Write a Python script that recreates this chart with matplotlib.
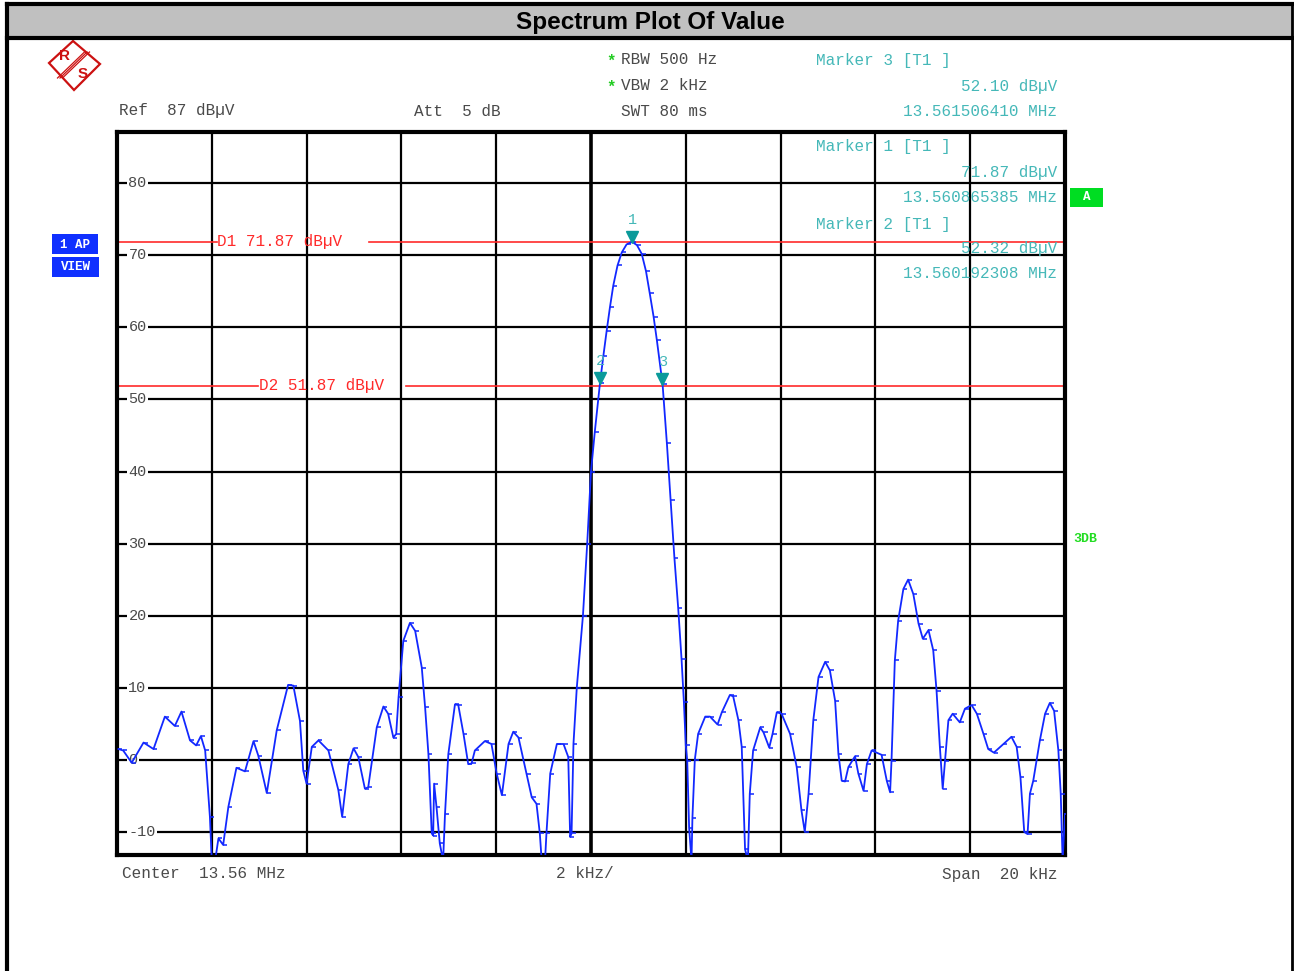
import matplotlib
matplotlib.use("Agg")
import matplotlib.pyplot as plt
import matplotlib.transforms as mtransforms
from matplotlib.patches import Rectangle, Polygon
import numpy as np

# trace: offset from 13.56 MHz (kHz) and level (dBuV)
freq_khz = [-9.97, -9.87, -9.69, -9.44, -9.23, -8.99, -8.78, -8.64, -8.46, -8.33,
            -8.23, -8.14, -8.04, -8.00, -7.93, -7.86, -7.76, -7.65, -7.48, -7.30,
            -7.12, -7.02, -6.84, -6.63, -6.39, -6.28, -6.14, -6.07, -6.00, -5.89,
            -5.75, -5.54, -5.33, -5.25, -5.12, -5.01, -4.91, -4.77, -4.70, -4.52,
            -4.38, -4.28, -4.17, -4.11, -4.06, -3.96, -3.82, -3.71, -3.57, -3.50,
            -3.43, -3.36, -3.33, -3.31, -3.26, -3.19, -3.12, -3.08, -3.01, -2.87,
            -2.80, -2.69, -2.59, -2.52, -2.45, -2.24, -2.10, -1.99, -1.88, -1.74,
            -1.64, -1.53, -1.36, -1.25, -1.15, -1.08, -1.04, -0.97, -0.94, -0.86,
            -0.72, -0.58, -0.48, -0.44, -0.41, -0.37, -0.30, -0.17, -0.08, 0.00,
            0.08, 0.19, 0.26, 0.33, 0.40, 0.47, 0.56, 0.65, 0.75, 0.865,
            0.97, 1.07, 1.16, 1.24, 1.32, 1.39, 1.51,
            1.60, 1.68, 1.76, 1.84, 1.91, 1.96, 2.00, 2.03, 2.07, 2.12,
            2.14, 2.19, 2.26, 2.41, 2.51, 2.67, 2.76, 2.93, 3.00, 3.11,
            3.18, 3.25, 3.31, 3.35, 3.42, 3.57, 3.64, 3.76, 3.83, 3.92,
            4.02, 4.20, 4.34, 4.44, 4.51, 4.59, 4.69, 4.80, 4.94, 5.04,
            5.15, 5.22, 5.29, 5.36, 5.43, 5.57, 5.64, 5.75, 5.82, 5.92,
            6.13, 6.24, 6.31, 6.34, 6.41, 6.48, 6.59, 6.69, 6.80, 6.91,
            7.00, 7.12, 7.22, 7.29, 7.36, 7.42, 7.47, 7.54, 7.63, 7.78,
            7.89, 8.03, 8.14, 8.28, 8.38, 8.50, 8.70, 8.87, 8.98, 9.06,
            9.14, 9.21, 9.26, 9.33, 9.47, 9.58, 9.68, 9.77, 9.86, 9.91,
            9.95, 10.0]
level_dbuv = [1.5, 1.3, -0.4, 2.4, 1.5, 6.0, 4.7, 6.7, 2.7, 2.0,
              3.3, 1.3, -7.9, -14, -14, -10.9, -11.8, -6.5, -1.1, -1.6,
              2.6, 0.6, -4.6, 4.1, 10.4, 10.3, 5.4, -1.5, -3.3, 1.8,
              2.7, 1.3, -4.2, -7.9, -0.6, 1.6, 0.4, -4.0, -3.8, 4.5,
              7.4, 6.4, 3.1, 3.6, 8.7, 16.5, 19.0, 17.9, 12.8, 7.3,
              0.8, -10.2, -10.5, -3.3, -6.5, -11.6, -14, -7.5, 0.8, 7.7,
              7.6, 3.6, -0.6, -0.5, 1.3, 2.6, 2.2, -1.9, -4.9, 2.2,
              3.9, 3.1, -1.9, -5.2, -6.1, -10.2, -14, -14, -10.2, -1.9,
              2.2, 2.2, 0.4, -10.7, -10.2, 2.2, 10.0, 20.0, 30.0, 40.0,
              45.5, 52.3, 56.0, 59.5, 62.8, 65.8, 68.6, 70.4, 71.5, 71.87,
              71.4, 70.2, 67.8, 64.7, 61.5, 58.2, 52.1,
              44.0, 36.0, 28.0, 21.0, 14.0, 8.0, 2.0, -0.1, -9.4, -14,
              -8.0, 0.0, 3.6, 6.0, 6.0, 4.9, 6.6, 9.0, 8.8, 5.5,
              1.8, -12.4, -14, -4.7, 1.3, 4.5, 3.8, 1.7, 3.6, 6.6,
              6.4, 3.6, -1.0, -7.0, -10.0, -4.7, 5.5, 11.5, 13.6, 12.4,
              8.2, 0.8, -2.9, -3.0, -1.0, 0.5, -1.9, -4.3, -0.6, 1.3,
              0.7, -2.9, -4.5, -0.1, 13.8, 19.3, 23.7, 25.0, 23.0, 18.9,
              16.8, 18.0, 15.2, 9.6, 1.8, -4.0, -0.1, 5.5, 6.4, 5.2,
              7.1, 7.6, 6.4, 3.6, 1.5, 1.0, 2.2, 3.2, 1.8, -2.4,
              -10.0, -10.3, -4.7, -2.9, 2.7, 6.4, 7.9, 6.8, 1.3, -4.7,
              -14, -7.5]

marker_ids = ["1", "2", "3"]
marker_khz = [0.865, 0.192, 1.506]
marker_dbuv = [71.87, 52.32, 52.10]
marker_mhz = ["13.560865385", "13.560192308", "13.561506410"]
display_lines = [71.87, 51.87]
ytick_vals = [80, 70, 60, 50, 40, 30, 20, 10, 0, -10]

W, H = 1294, 971
mono = "Liberation Mono"
grey_txt = "#4a4a4a"
teal = "#45b8b8"
red = "#ff2a2a"

fig = plt.figure(figsize=(W / 100, H / 100), dpi=100)

# main graticule
ax = fig.add_axes([117 / W, 1 - 855 / H, 948 / W, 723 / H])
ax.set_xlim(-10, 10)
ax.set_ylim(-13.2, 87.1)
for v in ytick_vals:
    ax.axhline(v, color="black", lw=1.6, zorder=1)
for k in range(-8, 10, 2):
    ax.axvline(k, color="black", lw=2.6 if k == 0 else 1.6, zorder=1)
for s in ax.spines.values():
    s.set_linewidth(3)
ax.set_xticks([])
ax.set_yticks([])

blend = mtransforms.blended_transform_factory(ax.transAxes, ax.transData)

# display lines with gaps for their labels
gaps = [(0.105, 0.266), (0.149, 0.305)]
for i, (lvl, (g0, g1)) in enumerate(zip(display_lines, gaps)):
    ax.axhline(lvl, xmin=0, xmax=g0, color=red, lw=1.2, zorder=2)
    ax.axhline(lvl, xmin=g1, xmax=1, color=red, lw=1.2, zorder=2)
    ax.text(g0 + 0.001, lvl, "D%d %.2f dBµV" % (i + 1, lvl), color=red,
            family=mono, fontsize=11.5, va="center", ha="left",
            transform=blend, zorder=3)

# y labels sitting on the grid lines
for v in ytick_vals:
    ax.text(0.012, v, str(v), family=mono, fontsize=11, color=grey_txt,
            va="center", ha="left", transform=blend, zorder=2,
            bbox=dict(facecolor="white", edgecolor="none", pad=1))

# trace with the little sample ticks
tick_mark = [(0, 0), (1, 0)]
ax.plot(freq_khz, level_dbuv, color="#1228ff", lw=1.3, zorder=4,
        marker=tick_mark, ms=6, mew=1.1, mec="#1228ff", clip_on=True)

# markers
tri = mtransforms.offset_copy(ax.transData, fig=fig, x=0, y=5, units="dots")
num = mtransforms.offset_copy(ax.transData, fig=fig, x=0, y=22, units="dots")
for mid, mk, md in zip(marker_ids, marker_khz, marker_dbuv):
    ax.plot([mk], [md], marker="v", ms=8, color="#0a9a9a", transform=tri, zorder=5)
    ax.text(mk, md, mid, color=teal, family=mono, fontsize=11, ha="center",
            va="center", transform=num, zorder=5)

# overlay in screen pixels for the instrument annotations
ov = fig.add_axes([0, 0, 1, 1], zorder=10)
ov.set_xlim(0, W)
ov.set_ylim(H, 0)
ov.axis("off")

# outer frame and title bar
ov.add_patch(Rectangle((7, 4), 1285, 34, facecolor="#c0c0c0", edgecolor="none"))
ov.plot([7, 1292], [38, 38], color="black", lw=3)
ov.plot([7, 1292], [4, 4], color="black", lw=3)
ov.plot([7, 7], [4, H], color="black", lw=3)
ov.plot([1292, 1292], [4, H], color="black", lw=2)
ov.text(650, 22, "Spectrum Plot Of Value", family="Liberation Sans",
        fontweight="bold", fontsize=17.5, ha="center", va="center")

# R&S logo
logo_red = "#cc1111"
ov.add_patch(Polygon([(73, 41), (100, 64), (74, 90), (49, 63)], closed=True,
                     facecolor="none", edgecolor=logo_red, lw=1.6))
for d in (-2.5, 0, 2.5):
    ov.plot([60 + d, 87 + d], [78, 52], color=logo_red, lw=0.9)
ov.text(64, 56, "R", color=logo_red, family="Liberation Sans", fontweight="bold",
        fontsize=11, ha="center", va="center")
ov.text(83, 74, "S", color=logo_red, family="Liberation Sans", fontweight="bold",
        fontsize=11, ha="center", va="center")

fs = 11.5
# settings
ov.text(119, 111, "Ref  87 dBµV", family=mono, fontsize=fs, color=grey_txt, va="center")
ov.text(414, 111, "Att  5 dB", family=mono, fontsize=fs, color=grey_txt, va="center")
ov.text(606, 61, "*", family=mono, fontsize=fs, color="#22cc22", va="center", fontweight="bold")
ov.text(621, 59, "RBW 500 Hz", family=mono, fontsize=fs, color=grey_txt, va="center")
ov.text(606, 87, "*", family=mono, fontsize=fs, color="#22cc22", va="center", fontweight="bold")
ov.text(621, 85, "VBW 2 kHz", family=mono, fontsize=fs, color=grey_txt, va="center")
ov.text(621, 111, "SWT 80 ms", family=mono, fontsize=fs, color=grey_txt, va="center")

# marker readouts
rows = {"3": 61, "1": 147, "2": 224}
for mid, md, mf in zip(marker_ids, marker_dbuv, marker_mhz):
    y0 = rows[mid]
    ov.text(816, y0, "Marker %s [T1 ]" % mid, family=mono, fontsize=fs, color=teal, va="center")
    ov.text(1057, y0 + 25, "%.2f dBµV" % md, family=mono, fontsize=fs, color=teal,
            va="center", ha="right")
    ov.text(1057, y0 + 50, "%s MHz" % mf, family=mono, fontsize=fs, color=teal,
            va="center", ha="right")

# side badges
ov.add_patch(Rectangle((52, 234), 46, 20, facecolor="#1030ff", edgecolor="none"))
ov.text(75, 244.5, "1 AP", family=mono, fontsize=9, color="white", fontweight="bold",
        ha="center", va="center")
ov.add_patch(Rectangle((52, 257), 47, 20, facecolor="#1030ff", edgecolor="none"))
ov.text(75.5, 267.5, "VIEW", family=mono, fontsize=9, color="white", fontweight="bold",
        ha="center", va="center")
ov.add_patch(Rectangle((1070, 188), 33, 19, facecolor="#00dd22", edgecolor="none"))
ov.text(1086.5, 197.5, "A", family=mono, fontsize=9, color="white", fontweight="bold",
        ha="center", va="center")
ov.text(1073, 539, "3DB", family=mono, fontsize=9.5, color="#22dd22", fontweight="bold",
        va="center")

# bottom axis annotations
ov.text(122, 874, "Center  13.56 MHz", family=mono, fontsize=fs, color=grey_txt, va="center")
ov.text(556, 874, "2 kHz/", family=mono, fontsize=fs, color=grey_txt, va="center")
ov.text(1057, 874, "Span  20 kHz", family=mono, fontsize=fs, color=grey_txt, va="center",
        ha="right")

fig.savefig("out.png", dpi=100)
